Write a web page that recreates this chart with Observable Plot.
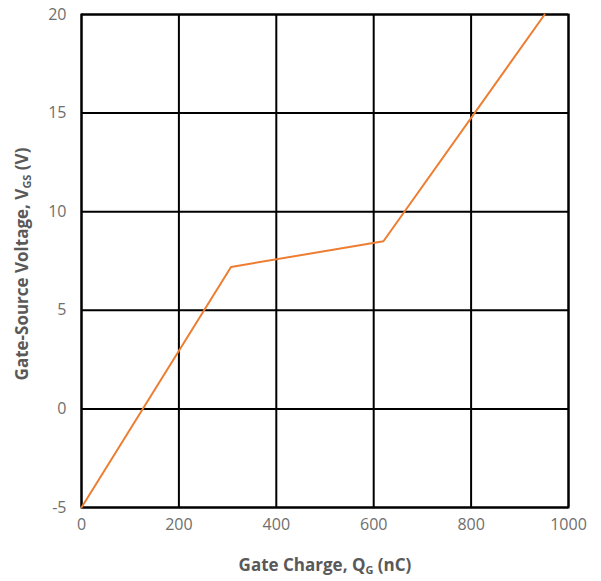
<!DOCTYPE html>
<html>
<head>
<meta charset="utf-8">
<script src="https://cdn.jsdelivr.net/npm/d3@7"></script>
<script src="https://cdn.jsdelivr.net/npm/@observablehq/plot@0.6"></script>
<style>
  html, body { margin: 0; padding: 0; background: #fff; }
</style>
</head>
<body>
<div id="chart"></div>
<script>
const xTicks = [0, 200, 400, 600, 800, 1000];
const yTicks = [-5, 0, 5, 10, 15, 20];
const gateCharge = [0, 307, 620, 951];
const vgs = [-5, 7.2, 8.5, 20];

const data = gateCharge.map((q, i) => ({q, v: vgs[i]}));
const font = "'Open Sans', 'Noto Sans', sans-serif";
const grey = "#595959";
const tickGrey = "#6e6e6e";

const plot = Plot.plot({
  width: 601,
  height: 581,
  marginLeft: 81,
  marginRight: 33,
  marginTop: 14,
  marginBottom: 74,
  style: {fontFamily: font, fontSize: "16px", color: grey, background: "#fff"},
  x: {domain: [0, 1000], label: null},
  y: {domain: [-5, 20], label: null},
  marks: [
    Plot.gridX(xTicks, {stroke: "black", strokeOpacity: 1, strokeWidth: 2}),
    Plot.gridY(yTicks, {stroke: "black", strokeOpacity: 1, strokeWidth: 2}),
    Plot.frame({stroke: "black", strokeWidth: 2}),
    Plot.axisX(xTicks, {tickSize: 0, tickPadding: 11, fill: tickGrey, fontSize: 16, label: null, tickFormat: d => String(d)}),
    Plot.axisY(yTicks, {tickSize: 0, tickPadding: 15, fill: tickGrey, fontSize: 16, label: null, tickFormat: d => String(d)}),
    Plot.line(data, {x: "q", y: "v", stroke: "#ED7D31", strokeWidth: 2})
  ]
});

const svg = d3.select(plot);
// x-axis title
const xt = svg.append("text")
  .attr("x", 325).attr("y", 571)
  .attr("text-anchor", "middle")
  .attr("fill", grey).attr("font-weight", "bold")
  .attr("font-size", 17).attr("font-family", font);
xt.append("tspan").text("Gate Charge, Q");
xt.append("tspan").attr("font-size", 11).attr("dy", 3).text("G");
xt.append("tspan").attr("dy", -3).text(" (nC)");

// y-axis title
const yt = svg.append("text")
  .attr("transform", "translate(28,264) rotate(-90)")
  .attr("text-anchor", "middle")
  .attr("fill", grey).attr("font-weight", "bold")
  .attr("font-size", 17).attr("font-family", font);
yt.append("tspan").text("Gate-Source Voltage, V");
yt.append("tspan").attr("font-size", 11).attr("dy", 3).text("GS");
yt.append("tspan").attr("dy", -3).text(" (V)");

document.getElementById("chart").appendChild(plot);
</script>
</body>
</html>
